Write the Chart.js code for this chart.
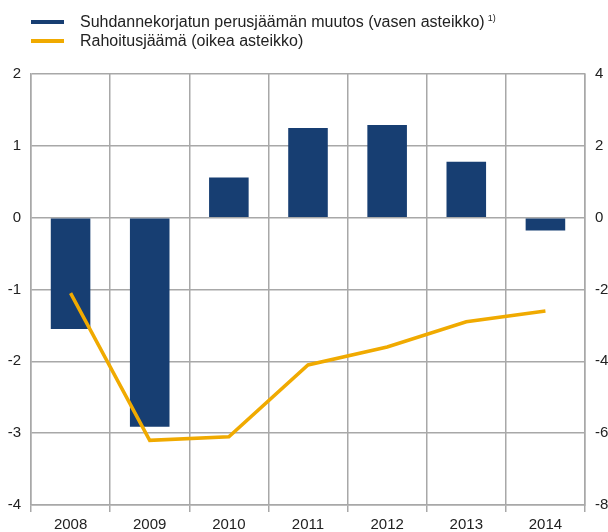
<!DOCTYPE html>
<html>
<head>
<meta charset="utf-8">
<script src="https://cdn.jsdelivr.net/npm/chart.js@4/dist/chart.umd.min.js"></script>
<style>
  body { margin: 0; background: #fff; font-family: "Liberation Sans", Arial, sans-serif; }
  #wrap { position: relative; width: 608px; height: 532px; }
  #legend { position: absolute; left: 0; top: 12px; font-size: 16px; color: #222; }
  .item { position: relative; height: 19px; }
  .swatch { position: absolute; left: 31px; top: 8px; width: 33px; height: 4px; }
  .label { position: absolute; left: 80px; top: 0px; line-height: 19px; white-space: nowrap; }
  .note { font-size: 9px; position: relative; top: -6px; margin-left: 3px; }
</style>
</head>
<body>
<div id="wrap">
  <canvas id="chart" width="608" height="532"></canvas>
  <div id="legend">
    <div class="item"><span class="swatch" style="background:#173e72"></span><span class="label">Suhdannekorjatun perusjäämän muutos (vasen asteikko)<span class="note">1)</span></span></div>
    <div class="item"><span class="swatch" style="background:#f0aa00"></span><span class="label">Rahoitusjäämä (oikea asteikko)</span></div>
  </div>
</div>
<script>
// Data
const years = ['2008', '2009', '2010', '2011', '2012', '2013', '2014'];
const primaryChange = [-1.55, -2.91, 0.56, 1.25, 1.29, 0.78, -0.18];
const fiscalBalance = [-2.1, -6.2, -6.1, -4.1, -3.6, -2.9, -2.6];

const tickFont = { family: '"Liberation Sans", Arial, sans-serif', size: 15 };
const gridColor = '#a8a8a8';

new Chart(document.getElementById('chart'), {
    type: 'bar',
    data: {
        labels: years,
        datasets: [{
            type: 'line',
            label: 'Rahoitusjäämä (oikea asteikko)',
            data: fiscalBalance,
            yAxisID: 'y2',
            borderColor: '#f0aa00',
            borderWidth: 3.5,
            pointRadius: 0,
            tension: 0,
            order: 0
        }, {
            label: 'Suhdannekorjatun perusjäämän muutos (vasen asteikko)',
            data: primaryChange,
            yAxisID: 'y',
            backgroundColor: '#173e72',
            categoryPercentage: 1,
            barPercentage: 0.5,
            order: 1
        }]
    },
    options: {
        responsive: false,
        animation: false,
        layout: { padding: { top: 74, left: 0, right: 0, bottom: 0 } },
        plugins: {
            legend: { display: false },
            tooltip: { enabled: false }
        },
        scales: {
            x: {
                offset: true,
                grid: { offset: true, color: gridColor, lineWidth: 1.5, tickLength: 7 },
                border: { color: gridColor, width: 1.5 },
                ticks: { color: '#222', font: tickFont, padding: 4 },
                afterFit: s => { s.height = 27; }
            },
            y: {
                position: 'left',
                min: -4, max: 2,
                ticks: { stepSize: 1, color: '#222', font: tickFont, padding: 10 },
                grid: { color: gridColor, lineWidth: 1.5, drawTicks: false },
                border: { color: gridColor, width: 1.5 },
                afterFit: s => { s.width = 31; }
            },
            y2: {
                position: 'right',
                min: -8, max: 4,
                ticks: { stepSize: 2, color: '#222', font: tickFont, padding: 10 },
                grid: { drawOnChartArea: false, drawTicks: false },
                border: { color: gridColor, width: 1.5 },
                afterFit: s => { s.width = 23; }
            }
        }
    }
});
</script>
</body>
</html>
